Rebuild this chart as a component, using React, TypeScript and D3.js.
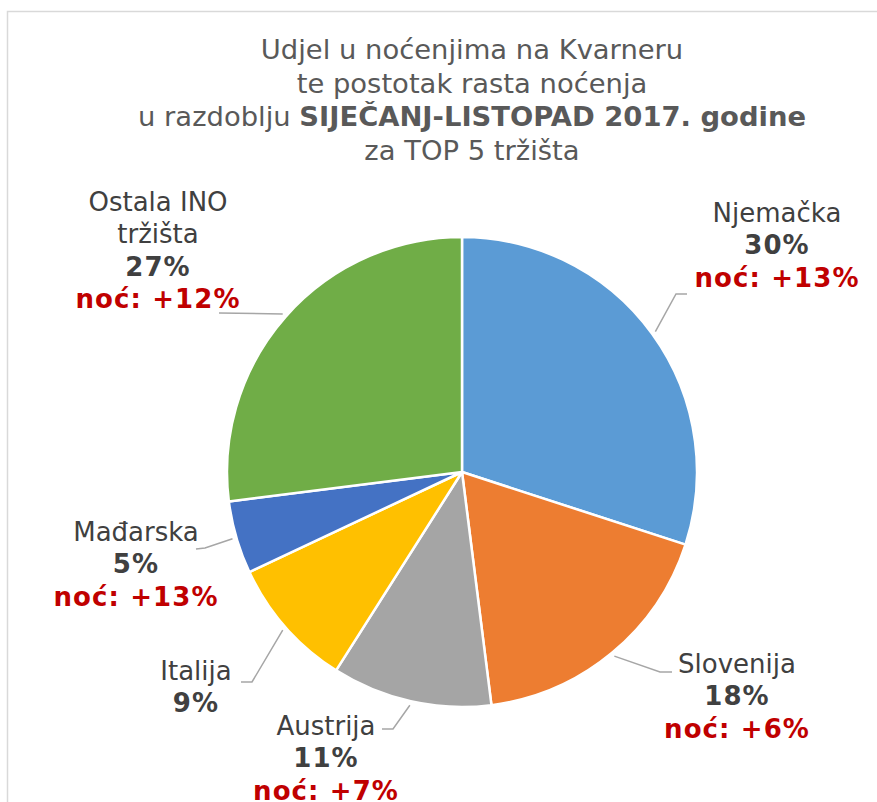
import React from "react";
import * as d3 from "d3";

// ---- data ----
const categories = ["Njemačka", "Slovenija", "Austrija", "Italija", "Mađarska", "Ostala INO tržišta"];
const shares = [30, 18, 11, 9, 5, 27];
const growth = ["+13%", "+6%", "+7%", "", "+13%", "+12%"];
const titleLines = [
  [{ t: "Udjel u noćenjima na Kvarneru", b: false }],
  [{ t: "te postotak rasta noćenja", b: false }],
  [{ t: "u razdoblju ", b: false }, { t: "SIJEČANJ-LISTOPAD 2017. godine", b: true }],
  [{ t: "za TOP 5 tržišta", b: false }],
];

// ---- style / layout ----
const colors = ["#5B9BD5", "#ED7D31", "#A5A5A5", "#FFC000", "#4472C4", "#70AD47"];
const nameLines = [["Njemačka"], ["Slovenija"], ["Austrija"], ["Italija"], ["Mađarska"], ["Ostala INO", "tržišta"]];
const labelLayout = [
  { x: 777, y: 222, leader: [[676, 294], [687, 294]] },
  { x: 737, y: 673, leader: [[660, 672], [672, 672]] },
  { x: 326, y: 735, leader: [[393, 729], [382, 729]] },
  { x: 196, y: 680, leader: [[252, 682], [241, 682]] },
  { x: 136, y: 541, leader: [[205, 548], [196, 549]] },
  { x: 158, y: 211, leader: [[219, 313]] },
];
const W = 877, H = 802;
const cx = 462, cy = 472, R = 235;
const FONT = "Verdana, 'DejaVu Sans', sans-serif";
const LINE = 32.3;

export default function App() {
  const pie = d3.pie<number>().sort(null).value((d) => d).startAngle(0).endAngle(2 * Math.PI);
  const arcs = pie(shares);
  const arc = d3.arc<d3.PieArcDatum<number>>().innerRadius(0).outerRadius(R);

  return (
    <svg width={W} height={H} style={{ position: "absolute", left: 0, top: 0, background: "#fff" }} fontFamily={FONT}>
      <rect x={0} y={0} width={W} height={H} fill="#fff" />
      <path d={`M7.5,${H} L7.5,11.5 L${W},11.5`} fill="none" stroke="#D9D9D9" strokeWidth={1.5} />
      {titleLines.map((parts, i) => (
        <text key={i} x={472} y={59 + i * 33.6} textAnchor="middle" fontSize={27.4} fill="#595959">
          {parts.map((p, j) => (
            <tspan key={j} fontWeight={p.b ? "bold" : "normal"}>{p.t}</tspan>
          ))}
        </text>
      ))}
      <g transform={`translate(${cx},${cy})`}>
        {arcs.map((a, i) => (
          <path key={i} d={arc(a) || ""} fill={colors[i]} stroke="#fff" strokeWidth={2.5} strokeLinejoin="round" />
        ))}
      </g>
      {arcs.map((a, i) => {
        const mid = (a.startAngle + a.endAngle) / 2;
        const r0 = R + 4;
        const sx = cx + Math.sin(mid) * r0;
        const sy = cy - Math.cos(mid) * r0;
        const pts = [[sx, sy], ...labelLayout[i].leader];
        const line = d3.line()(pts as [number, number][]);
        return <path key={i} d={line || ""} fill="none" stroke="#A6A6A6" strokeWidth={1.5} />;
      })}
      {categories.map((c, i) => {
        const L = labelLayout[i];
        const lines: { t: string; w: string; f: string }[] = [];
        nameLines[i].forEach((n) => lines.push({ t: n, w: "normal", f: "#404040" }));
        lines.push({ t: `${shares[i]}%`, w: "bold", f: "#404040" });
        if (growth[i]) lines.push({ t: `noć: ${growth[i]}`, w: "bold", f: "#C00000" });
        return (
          <text key={c} x={L.x} y={L.y} textAnchor="middle" fontSize={26}>
            {lines.map((l, j) => (
              <tspan key={j} x={L.x} y={L.y + j * LINE} fontWeight={l.w} fill={l.f}
                letterSpacing={l.w === "bold" ? 1.1 : 0}>{l.t}</tspan>
            ))}
          </text>
        );
      })}
    </svg>
  );
}
